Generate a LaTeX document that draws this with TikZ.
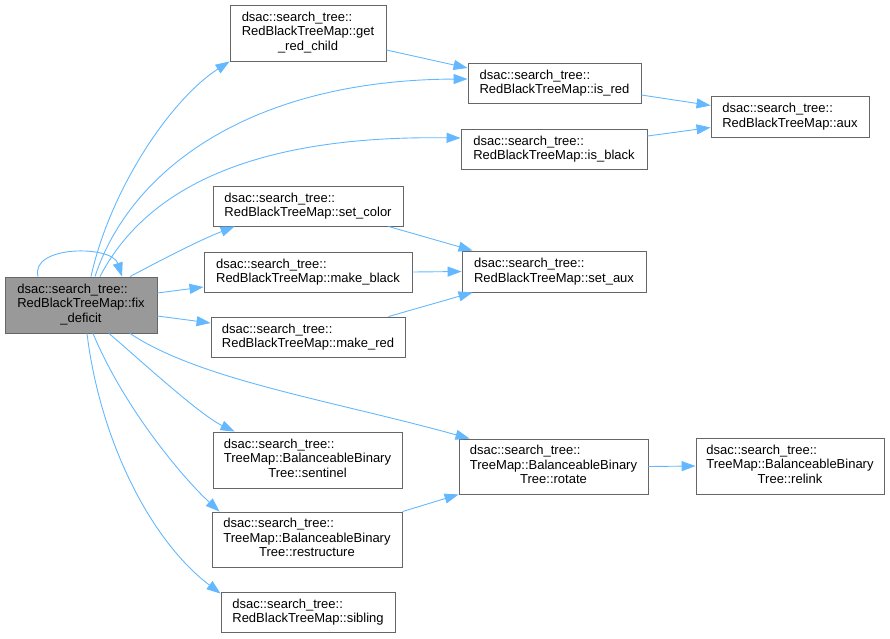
\documentclass[tikz,border=0pt]{standalone}
\usepackage{fontspec}
\setmainfont{Liberation Sans}
\usepackage{xcolor}
\usetikzlibrary{arrows.meta,positioning}

\definecolor{edgeblue}{HTML}{63B8FF}
\definecolor{boxgrey}{HTML}{666666}
\definecolor{mainfill}{HTML}{999999}

\newcommand{\threelines}[3]{\begin{tabular}{@{}l@{}}#1\\#2\\\multicolumn{1}{@{}c@{}}{#3}\end{tabular}}

\tikzset{
    fnbox/.style={draw=boxgrey, line width=0.9pt, fill=white, inner sep=0pt,
        align=left, font=\fontsize{13}{14.5}\selectfont},
    mainbox/.style={fnbox, fill=mainfill},
    call/.style={draw=edgeblue, line width=0.9pt,
        -{Triangle[length=14pt,width=10pt]}}
}

\begin{document}
\begin{tikzpicture}[x=1pt,y=-1pt]
        \useasboundingbox (0,0) rectangle (890,638);
        % functions
        \node[mainbox, minimum width=152pt, minimum height=56pt] (fix) at (81,305)
            {\threelines{dsac::search\_tree::}{RedBlackTreeMap::fix}{\_deficit}};
        \node[fnbox, minimum width=156pt, minimum height=56pt] (grc) at (308,33)
            {\threelines{dsac::search\_tree::}{RedBlackTreeMap::get}{\_red\_child}};
        \node[fnbox, minimum width=173pt, minimum height=40pt] (isred) at (554.5,83)
            {dsac::search\_tree::\\RedBlackTreeMap::is\_red};
        \node[fnbox, minimum width=158pt, minimum height=41pt] (aux) at (790,116.5)
            {dsac::search\_tree::\\RedBlackTreeMap::aux};
        \node[fnbox, minimum width=186pt, minimum height=40pt] (isblack) at (554,149)
            {dsac::search\_tree::\\RedBlackTreeMap::is\_black};
        \node[fnbox, minimum width=190pt, minimum height=40pt] (setcolor) at (308,206)
            {dsac::search\_tree::\\RedBlackTreeMap::set\_color};
        \node[fnbox, minimum width=208pt, minimum height=40pt] (makeblack) at (308,272)
            {dsac::search\_tree::\\RedBlackTreeMap::make\_black};
        \node[fnbox, minimum width=184pt, minimum height=41pt] (setaux) at (554,271.5)
            {dsac::search\_tree::\\RedBlackTreeMap::set\_aux};
        \node[fnbox, minimum width=194pt, minimum height=40pt] (makered) at (308,337)
            {dsac::search\_tree::\\RedBlackTreeMap::make\_red};
        \node[fnbox, minimum width=189pt, minimum height=56pt] (sentinel) at (307.5,460)
            {\threelines{dsac::search\_tree::}{TreeMap::BalanceableBinary}{Tree::sentinel}};
        \node[fnbox, minimum width=189pt, minimum height=55pt] (rotate) at (553.5,466.5)
            {\threelines{dsac::search\_tree::}{TreeMap::BalanceableBinary}{Tree::rotate}};
        \node[fnbox, minimum width=188pt, minimum height=56pt] (relink) at (790,466)
            {\threelines{dsac::search\_tree::}{TreeMap::BalanceableBinary}{Tree::relink}};
        \node[fnbox, minimum width=190pt, minimum height=55pt] (restructure) at (307,539.5)
            {\threelines{dsac::search\_tree::}{TreeMap::BalanceableBinary}{Tree::restructure}};
        \node[fnbox, minimum width=174pt, minimum height=40pt] (sibling) at (308,612)
            {dsac::search\_tree::\\RedBlackTreeMap::sibling};
        % calls out of fix_deficit
        \draw[call] ([xshift=-43pt]fix.north) .. controls (30,245) and (112,245) .. ([xshift=41pt]fix.north);
        \draw[call] ([xshift=10pt]fix.north) .. controls (110,190) and (170,100) .. (grc.south west);
        \draw[call] ([xshift=14pt]fix.north) .. controls (130,170) and (250,80) .. ([yshift=4pt]isred.west);
        \draw[call] ([xshift=19pt]fix.north) .. controls (145,190) and (250,135) .. ([yshift=11pt]isblack.west);
        \draw[call] ([xshift=49pt]fix.north) .. controls (165,258) and (200,240) .. ([xshift=22pt]setcolor.south west);
        \draw[call] ([yshift=12pt]fix.east) -- ([yshift=-15pt]makeblack.west);
        \draw[call] ([yshift=-11pt]fix.east) -- ([yshift=14pt]makered.west);
        \draw[call] ([xshift=49pt]fix.south) .. controls (200,380) and (330,400) .. ([xshift=11pt]rotate.north west);
        \draw[call] ([xshift=28pt]fix.south) .. controls (140,360) and (200,415) .. ([xshift=22pt]sentinel.north west);
        \draw[call] ([xshift=12pt]fix.south) .. controls (125,410) and (185,480) .. ([xshift=8pt]restructure.north west);
        \draw[call] ([xshift=6pt]fix.south) .. controls (100,440) and (150,540) .. ([yshift=-2pt]sibling.north west);
        % other calls
        \draw[call] ([yshift=-17pt]grc.east) -- ([yshift=15pt]isred.west);
        \draw[call] ([yshift=-12pt]isred.east) -- ([yshift=11pt]aux.west);
        \draw[call] ([yshift=13pt]isblack.east) -- ([yshift=-11pt]aux.west);
        \draw[call] ([xshift=-15pt]setcolor.south east) -- ([xshift=11pt]setaux.north west);
        \draw[call] (makeblack.east) -- (setaux.west);
        \draw[call] ([xshift=-17pt]makered.north east) -- ([xshift=11pt]setaux.south west);
        \draw[call] (restructure.north east) -- (rotate.south west);
        \draw[call] (rotate.east) -- (relink.west);
    \end{tikzpicture}
\end{document}
